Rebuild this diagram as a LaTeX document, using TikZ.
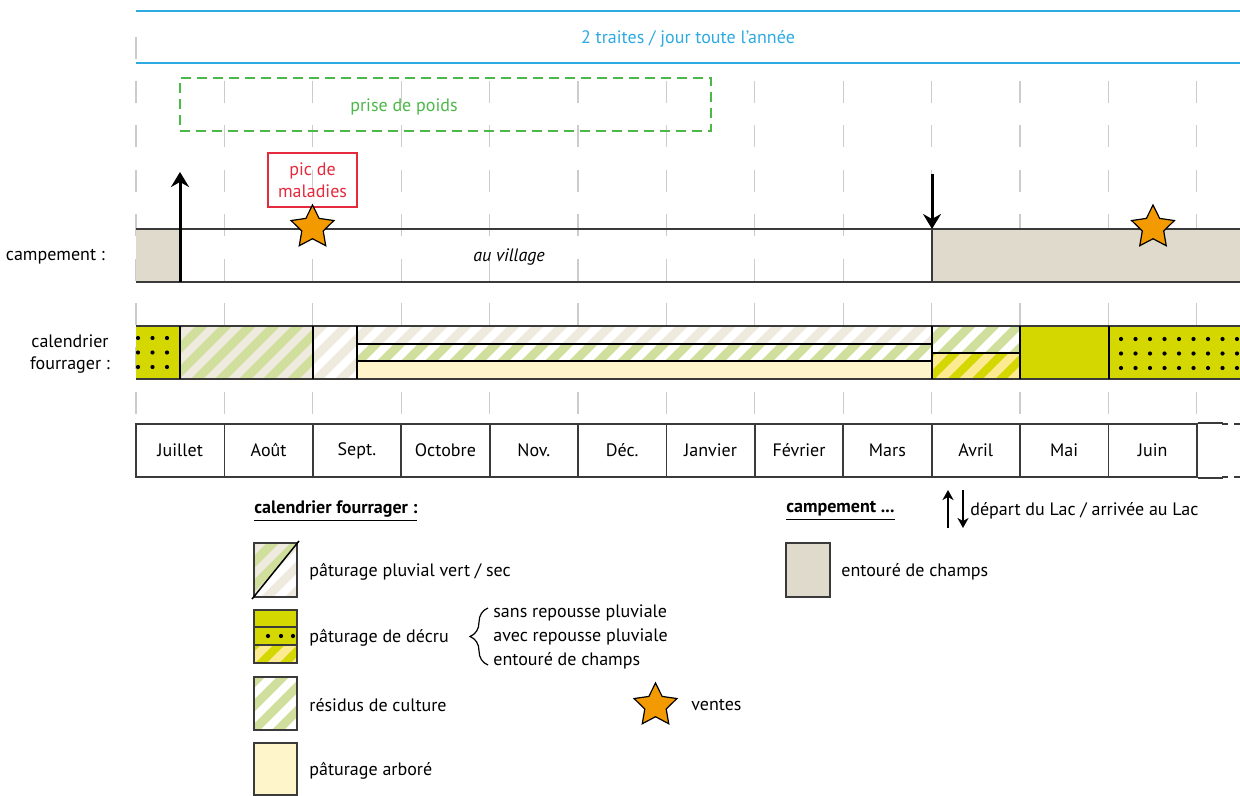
\documentclass[tikz,border=0pt]{standalone}
\usepackage{fontspec}
\setmainfont{PT Sans}
\usetikzlibrary{arrows.meta,positioning,shapes.geometric,decorations.pathreplacing}

\definecolor{traite}{HTML}{2DAAE1}
\definecolor{poids}{HTML}{4DB748}
\definecolor{malad}{HTML}{E42A3C}
\definecolor{orangevente}{HTML}{F39A00}
\definecolor{champ}{HTML}{E0DACD}
\definecolor{decru}{HTML}{D4D700}
\definecolor{vert}{HTML}{D0DF9B}
\definecolor{sec}{HTML}{EFEADE}
\definecolor{arbore}{HTML}{FFF5CB}
\definecolor{jaune}{HTML}{FDEB92}
\definecolor{gris}{HTML}{CCCCCC}
\definecolor{contour}{HTML}{3A3A3A}

% fond #1, rayures #2, rectangle (#3,#4)-(#5,#6)
\newcommand{\rayures}[6]{%
  \begin{scope}
    \clip (#3,#4) rectangle (#5,#6);
    \fill[#1] (#3,#4) rectangle (#5,#6);
    \pgfmathtruncatemacro{\cdeb}{24*floor((#3+#4)/24)}
    \pgfmathtruncatemacro{\csuiv}{\cdeb+24}
    \pgfmathtruncatemacro{\cfin}{#5+#6+24}
    \foreach \c in {\cdeb,\csuiv,...,\cfin}
      \draw[#2, line width=4.4pt] (\c-#4+30,#4-30) -- (\c-#6-30,#6+30);
  \end{scope}}

\begin{document}
\begin{tikzpicture}[
    x=0.5pt, y=-0.5pt,
    font=\fontsize{9}{11}\selectfont,
    >={Stealth[length=7.5pt,width=9pt,inset=2.5pt]},
    ligne/.style={draw=contour, line width=1pt},
    bord/.style={draw=black, line width=0.75pt},
    grille/.style={draw=gris, line width=0.6pt, dash pattern=on 11pt off 11.2pt},
    mois/.style={draw=contour, line width=0.9pt, fill=white,
        minimum width=44.2pt, minimum height=26.5pt, inner sep=0pt},
    vente/.style={star, star points=5, star point ratio=2, minimum size=22.5pt,
        inner sep=0pt, draw=black, line width=0.6pt, fill=orangevente},
    fleche/.style={->, line width=1.5pt},
    petitefleche/.style={-{Stealth[length=5pt,width=5.5pt,inset=1.5pt]}, line width=1pt},
    legende/.style={anchor=west, inner sep=0pt},
    case/.style={draw=contour, line width=0.75pt},
    point/.style={radius=2.1}
]
\useasboundingbox (0,0) rectangle (1240,796);

% grille des mois
\draw[grille] (136,36.6) -- (136,424);
\foreach \k in {1,...,12}
    \draw[grille] ({136+88.4*\k},81) -- ({136+88.4*\k},424);

% traites
\draw[traite, line width=1pt] (136,11) -- (1240,11);
\draw[traite, line width=1pt] (136,63) -- (1240,63);
\node[text=traite] (traites) at (688,39) {2 traites / jour toute l'année};

% prise de poids
\node[draw=poids, line width=0.7pt, dash pattern=on 5pt off 3pt,
      minimum width=265.5pt, minimum height=26.5pt] (poidsbox) at (445.5,104.5) {};
\node[text=poids] (poidstxt) at (404,107) {prise de poids};

% pic de maladies
\node[draw=malad, line width=0.6pt, text=malad, align=center,
      minimum width=44.5pt, minimum height=27pt, inner sep=1pt] (malad) at (312.5,180)
      {pic de\\maladies};

% campement
\fill[champ] (136,229) rectangle (180,282);
\fill[champ] (932,229) rectangle (1240,282);
\draw[ligne] (136,229) -- (1240,229);
\draw[ligne] (136,282) -- (1240,282);
\coordinate (depbas) at (180,282);
\coordinate (dephaut) at (180,172);
\coordinate (arrhaut) at (932,174);
\coordinate (arrbas) at (932,229);
\draw[fleche] (depbas) -- (dephaut);
\draw[fleche] (arrhaut) -- (arrbas);
\draw[ligne, line width=0.8pt] (arrbas) -- (932,282);
\node[font=\fontsize{9}{11}\selectfont\itshape] (village) at (509,257) {au village};
\node[anchor=east] (campement) at (112,257) {campement :};

\node[vente] (v1) at (312.5,227.5) {};
\node[vente] (v2) at (1153,227.5) {};

% calendrier fourrager
\fill[decru] (136,326) rectangle (180,379);
\foreach \px in {138,152.5,...,182}
  \foreach \py in {338,352.5,367}
    \fill (\px,\py) circle[point];
\rayures{sec}{vert}{180}{326}{313}{379}
\rayures{white}{sec}{313}{326}{357}{379}
\rayures{white}{sec}{357}{326}{932}{344}
\rayures{white}{vert}{357}{344}{932}{361}
\fill[arbore] (357,361) rectangle (932,379);
\rayures{white}{vert}{932}{326}{1020}{353}
\rayures{decru}{jaune}{932}{353}{1020}{379}
\fill[decru] (1020,326) rectangle (1240,379);
\begin{scope}
  \clip (1109,326) rectangle (1240,379);
  \foreach \px in {1121,1135.5,...,1245}
    \foreach \py in {339,353.5,368}
      \fill (\px,\py) circle[point];
\end{scope}
\draw[ligne] (136,326) -- (1240,326);
\draw[ligne] (136,379) -- (1240,379);
\foreach \bx in {180,313,357,932,1020,1109}
  \draw[bord] (\bx,326) -- (\bx,379);
\draw[bord] (357,344) -- (932,344);
\draw[bord] (357,361) -- (932,361);
\draw[bord] (932,353) -- (1020,353);
\node[align=center] (calendrier) at (70,354) {calendrier\\fourrager :};

% mois
\foreach \m [count=\i] in {Juillet,Août,Sept.,Octobre,Nov.,Déc.,Janvier,Février,Mars,Avril,Mai,Juin}
  \node[mois] (m\i) at ({136+88.4*(\i-0.5)},450.5) {\m};
\draw[ligne, line width=0.9pt] (m12.north east) -- ++(25,0);
\draw[ligne, line width=0.9pt] (m12.south east) -- ++(25,0);
\draw[ligne, line width=0.9pt, dash pattern=on 3pt off 3pt] (1222,424) -- (1240,424);
\draw[ligne, line width=0.9pt, dash pattern=on 3pt off 3pt] (1222,477) -- (1240,477);

% legende : calendrier fourrager
\node[legende] (titrecal) at (254,511) {\underline{\textbf{calendrier fourrager :}}};

\begin{scope}
  \clip (254,597) -- (254,543) -- (297,543) -- cycle;
  \rayures{sec}{vert}{254}{543}{297}{597}
\end{scope}
\begin{scope}
  \clip (254,597) -- (297,543) -- (297,597) -- cycle;
  \rayures{white}{sec}{254}{543}{297}{597}
\end{scope}
\draw[case] (254,543) rectangle (297,597);
\draw[line width=0.75pt] (252,599) -- (299,541);
\node[legende] (pluvial) at (309,572) {pâturage pluvial vert / sec};

\fill[decru] (254,610) rectangle (297,645);
\foreach \px in {268,281,293}
  \fill (\px,636) circle[point];
\rayures{decru}{jaune}{254}{645}{297}{663}
\draw[case] (254,610) rectangle (297,663);
\draw[case] (254,627) -- (297,627);
\draw[case] (254,645) -- (297,645);
\node[legende] (decrutxt) at (309,638) {pâturage de décru};
\draw[line width=0.6pt, decorate, decoration={brace, amplitude=9pt}] (488,665) -- (488,608);
\node[legende] (sans) at (493,613) {sans repousse pluviale};
\node[legende] (avec) at (493,637) {avec repousse pluviale};
\node[legende] (entoure) at (493,661) {entouré de champs};

\rayures{white}{vert}{254}{677}{297}{730}
\draw[case] (254,677) rectangle (297,730);
\node[legende] (residus) at (309,705) {résidus de culture};

\fill[arbore] (254,743) rectangle (297,795);
\draw[case] (254,743) rectangle (297,795);
\node[legende] (arboretxt) at (309,771) {pâturage arboré};

\node[vente] (v3) at (655.5,705.5) {};
\node[legende] (ventes) at (691,705) {ventes};

% legende : campement
\node[legende] (titrecamp) at (786,511) {\underline{\textbf{campement ...}}};
\coordinate (lgup1) at (948,528);
\coordinate (lgup2) at (948,490);
\coordinate (lgdn1) at (963,490);
\coordinate (lgdn2) at (963,528);
\draw[petitefleche] (lgup1) -- (lgup2);
\draw[petitefleche] (lgdn1) -- (lgdn2);
\node[legende] (lac) at (970,511) {départ du Lac / arrivée au Lac};
\fill[champ] (786,543) rectangle (830,597);
\draw[case] (786,543) rectangle (830,597);
\node[legende] (champs) at (841,572) {entouré de champs};

\end{tikzpicture}
\end{document}
